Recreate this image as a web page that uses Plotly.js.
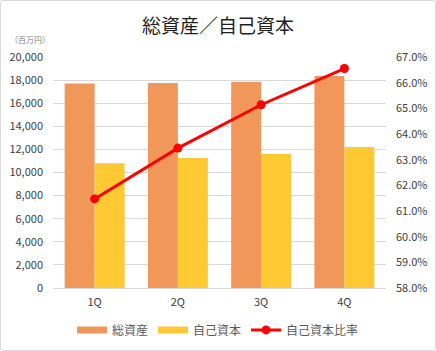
<!DOCTYPE html>
<html><head><meta charset="utf-8">
<script src="https://cdn.plot.ly/plotly-3.0.1.min.js"></script>
<style>
html,body{margin:0;padding:0;background:#fff;}
#chart{width:436px;height:351px;position:absolute;left:0;top:0;}
#frame{position:absolute;left:0;top:0;width:434px;height:349px;border:1px solid #d9d9d9;border-radius:3px;pointer-events:none;}
</style></head>
<body>
<div id="chart"></div><div id="frame"></div>
<script>
const categories = ['1Q','2Q','3Q','4Q'];
const totalAssets = [17700, 17750, 17850, 18350];
const equity = [10800, 11250, 11600, 12200];
const equityRatio = [61.47, 63.45, 65.14, 66.55];
const leftTicks = [0,2000,4000,6000,8000,10000,12000,14000,16000,18000,20000];
const rightTicks = [58,59,60,61,62,63,64,65,66,67];

const font = {family:'"Noto Sans CJK JP", "Liberation Sans", sans-serif', color:'#404040'};
const cOrange = '#F1975A', cYellow = '#FFC933', cRed = '#FF0000';

const data = [
  {type:'bar', x:categories, y:totalAssets, name:'総資産', marker:{color:cOrange}, showlegend:false, hoverinfo:'none'},
  {type:'bar', x:categories, y:equity, name:'自己資本', marker:{color:cYellow}, showlegend:false, hoverinfo:'none'},
  {type:'scatter', mode:'lines', x:[null], y:[null], name:'総資産', line:{color:cOrange, width:7}},
  {type:'scatter', mode:'lines', x:[null], y:[null], name:'自己資本', line:{color:cYellow, width:7}},
  {type:'scatter', mode:'lines+markers', x:categories, y:equityRatio, name:'自己資本比率', yaxis:'y2',
   line:{color:cRed, width:3}, marker:{color:cRed, size:9}}
];

const layout = {
  width:436, height:351,
  margin:{l:53, r:50, t:57, b:63},
  paper_bgcolor:'rgba(0,0,0,0)', plot_bgcolor:'#fff',
  font:Object.assign({size:11}, font),
  title:{text:'総資産／自己資本', x:0.5, xanchor:'center', y:0.925, yanchor:'middle', font:Object.assign({}, font, {size:19, color:'#1f1f1f'})},
  barmode:'group', bargap:0.28, bargroupgap:0,
  xaxis:{type:'category', tickfont:Object.assign({}, font, {size:11}), showgrid:false, ticks:'', ticklabelstandoff:6},
  yaxis:{range:[0,20000], tickvals:leftTicks, ticktext:leftTicks.map(v=>v.toLocaleString('en-US')),
    gridcolor:'#d9d9d9', gridwidth:1, zeroline:true, zerolinecolor:'#d9d9d9', zerolinewidth:1,
    ticks:'', ticklabelstandoff:9, tickfont:Object.assign({}, font, {size:11}), fixedrange:true},
  yaxis2:{range:[58,67], overlaying:'y', side:'right', tickvals:rightTicks, ticktext:rightTicks.map(v=>v.toFixed(1)+'%'),
    showgrid:false, zeroline:false, ticks:'', ticklabelstandoff:9, tickfont:Object.assign({}, font, {size:11}), fixedrange:true},
  legend:{orientation:'h', xref:'container', yref:'container', x:0.5, xanchor:'center', y:0.06, yanchor:'middle',
    font:Object.assign({}, font, {size:12, color:'#595959'}), itemwidth:30, traceorder:'normal'},
  annotations:[{text:'（百万円）', xref:'paper', yref:'paper', x:-0.135, y:1.075, xanchor:'left', yanchor:'middle', showarrow:false,
    font:Object.assign({}, font, {size:8, color:'#7f7f7f'})}],
  showlegend:true
};

Plotly.newPlot('chart', data, layout, {displayModeBar:false, staticPlot:true});
</script>
</body></html>
